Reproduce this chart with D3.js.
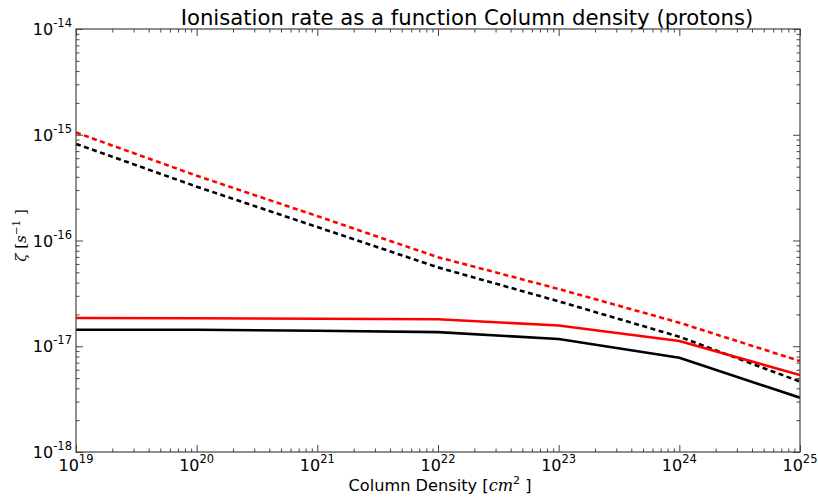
<!DOCTYPE html>
<html>
<head>
<meta charset="utf-8">
<script src="https://cdn.jsdelivr.net/npm/d3@7/dist/d3.min.js"></script>
<style>
  html, body { margin: 0; padding: 0; background: #fff; }
  svg { display: block; font-family: "DejaVu Sans", sans-serif; }
</style>
</head>
<body>
<svg id="chart" width="818" height="498"></svg>
<script>
// ---- Data ----
const columnDensity = [1e19, 1e20, 1e21, 1e22, 1e23, 1e24, 1e25];
const redSolid   = [1.85e-17, 1.84e-17, 1.82e-17, 1.80e-17, 1.57e-17, 1.12e-17, 5.35e-18];
const blackSolid = [1.43e-17, 1.43e-17, 1.40e-17, 1.36e-17, 1.17e-17, 7.8e-18, 3.26e-18];
const redDashed  = [1.05e-15, 4.1e-16, 1.7e-16, 6.95e-17, 3.48e-17, 1.67e-17, 7.24e-18];
const blackDashed= [8.2e-16, 3.23e-16, 1.34e-16, 5.57e-17, 2.66e-17, 1.23e-17, 4.63e-18];
const xTickExps = [19, 20, 21, 22, 23, 24, 25];
const yTickExps = [-18, -17, -16, -15, -14];
const titleText = "Ionisation rate as a function Column density (protons)";

const series = [
  { values: blackDashed, color: "#000000", dash: "5,3.5" },
  { values: redDashed,   color: "#ff0000", dash: "5,3.5" },
  { values: blackSolid,  color: "#000000", dash: null },
  { values: redSolid,    color: "#ff0000", dash: null }
];

const svg = d3.select("#chart");
const margin = { left: 76, right: 18, top: 29, bottom: 46 };
const W = 818, H = 498;
const x0 = margin.left, x1 = W - margin.right, y0 = margin.top, y1 = H - margin.bottom;

const x = d3.scaleLog().domain([1e19, 1e25]).range([x0, x1]);
const y = d3.scaleLog().domain([1e-18, 1e-14]).range([y1, y0]);

// minor tick values
const xMinor = [], yMinor = [];
for (let e = 19; e < 25; e++) for (let m = 2; m <= 9; m++) xMinor.push(m * Math.pow(10, e));
for (let e = -18; e < -14; e++) for (let m = 2; m <= 9; m++) yMinor.push(m * Math.pow(10, e));
const xMajor = xTickExps.map(e => Math.pow(10, e));
const yMajor = yTickExps.map(e => Math.pow(10, e));

const axisColor = "#444";
function drawAxis(gen, transform, values, size) {
  const g = svg.append("g").attr("transform", transform)
    .call(gen.tickValues(values).tickSize(size).tickFormat(""));
  g.select(".domain").remove();
  g.selectAll(".tick line").attr("stroke", axisColor).attr("stroke-width", 1);
}
// inward ticks on all four sides
drawAxis(d3.axisBottom(x), `translate(0,${y1})`, xMajor, -7);
drawAxis(d3.axisBottom(x), `translate(0,${y1})`, xMinor, -3.5);
drawAxis(d3.axisTop(x), `translate(0,${y0})`, xMajor, -7);
drawAxis(d3.axisTop(x), `translate(0,${y0})`, xMinor, -3.5);
drawAxis(d3.axisLeft(y), `translate(${x0},0)`, yMajor, -7);
drawAxis(d3.axisLeft(y), `translate(${x0},0)`, yMinor, -3.5);
drawAxis(d3.axisRight(y), `translate(${x1},0)`, yMajor, -7);
drawAxis(d3.axisRight(y), `translate(${x1},0)`, yMinor, -3.5);

// clip
svg.append("clipPath").attr("id", "clip").append("rect")
  .attr("x", x0).attr("y", y0).attr("width", x1 - x0).attr("height", y1 - y0);

const line = d3.line().x((d, i) => x(columnDensity[i])).y(d => y(d));
const lg = svg.append("g").attr("clip-path", "url(#clip)");
series.forEach(s => {
  lg.append("path")
    .attr("d", line(s.values))
    .attr("fill", "none")
    .attr("stroke", s.color)
    .attr("stroke-width", 2.6)
    .attr("stroke-dasharray", s.dash)
    .attr("stroke-linejoin", "round");
});

// frame
svg.append("rect").attr("x", x0).attr("y", y0).attr("width", x1 - x0).attr("height", y1 - y0)
  .attr("fill", "none").attr("stroke", axisColor).attr("stroke-width", 1.2);

// tick labels
xTickExps.forEach(e => {
  const t = svg.append("text").attr("x", x(Math.pow(10, e))).attr("y", y1 + 19)
    .attr("text-anchor", "middle").attr("font-size", 16).attr("fill", "#000");
  t.append("tspan").text("10");
  t.append("tspan").attr("dy", -8).attr("font-size", 11.5).text(String(e));
});
yTickExps.forEach(e => {
  const t = svg.append("text").attr("x", x0 - 4).attr("y", y(Math.pow(10, e)) + 6)
    .attr("text-anchor", "end").attr("font-size", 16).attr("fill", "#000");
  t.append("tspan").text("10");
  t.append("tspan").attr("dy", -8).attr("font-size", 11.5).text("-" + String(-e));
});

// title
svg.append("text").attr("x", (x0 + x1) / 2 + 29).attr("y", 25).attr("text-anchor", "middle")
  .attr("font-size", 21.2).attr("fill", "#000").text(titleText);

// x label
const xl = svg.append("text").attr("x", (x0 + x1) / 2 + 2).attr("y", 491).attr("text-anchor", "middle")
  .attr("font-size", 16.2).attr("fill", "#000");
xl.append("tspan").text("Column Density [");
xl.append("tspan").attr("font-family", "DejaVu Serif").attr("font-style", "italic").text("cm");
xl.append("tspan").attr("dy", -7).attr("font-size", 11).text("2");
xl.append("tspan").attr("dy", 7).text(" ]");

// y label
const yl = svg.append("text").attr("transform", `translate(26,${(y0 + y1) / 2 - 5}) rotate(-90)`)
  .attr("text-anchor", "middle").attr("font-size", 15).attr("fill", "#000")
  .attr("font-family", "DejaVu Serif");
yl.append("tspan").attr("font-style", "italic").text("ζ");
yl.append("tspan").text(" [");
yl.append("tspan").attr("font-style", "italic").text("s");
yl.append("tspan").attr("dy", -6).attr("font-size", 10.5).text("−1");
yl.append("tspan").attr("dy", 6).text(" ]");
</script>
</body>
</html>
